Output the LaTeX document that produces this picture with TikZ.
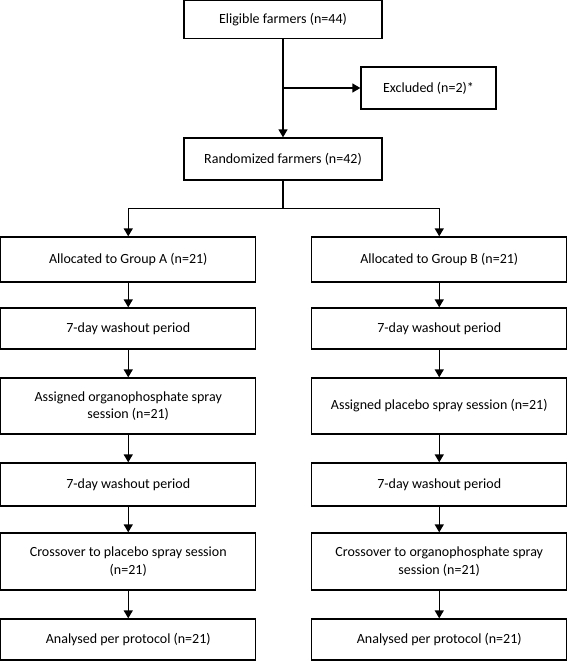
\documentclass[tikz,border=0pt]{standalone}
\usepackage{fontspec}
\setmainfont{Carlito}
\usepackage{tikz}
\usetikzlibrary{arrows.meta}
\usetikzlibrary{positioning}
\tikzset{
  box/.style={draw, rectangle, align=center, inner sep=2pt,
    font=\fontsize{14pt}{17.5pt}\selectfont},
  colbox/.style={box, minimum width=255pt}
}

\begin{document}
\begin{tikzpicture}[->,>={Triangle[length=8pt,width=9pt]},
      node distance=77pt,
      on grid,
      line width=1.3pt]

    \useasboundingbox (0,0) rectangle (567pt,-661pt);

    \node[box, minimum width=198pt, minimum height=38pt]
      (Eligible) at (283pt,-19.5pt) {Eligible farmers (n=44)};
    \node[box, minimum width=135pt, minimum height=42pt]
      (Excluded) [below right=68.5pt and 145.5pt of Eligible] {Excluded (n=2)*};
    \node[box, minimum width=198pt, minimum height=42pt]
      (Randomized) [below=139.5pt of Eligible] {Randomized farmers (n=42)};

    % group A
    \node[colbox, minimum height=45pt]
      (GroupA) [below left=100.5pt and 154.75pt of Randomized] {Allocated to Group A (n=21)};
    \node[colbox, minimum height=41pt]
      (WashA) [below=69pt of GroupA] {7-day washout period};
    \node[colbox, minimum height=56pt]
      (SprayA) [below=77.5pt of WashA] {Assigned organophosphate spray\\session (n=21)};
    \node[colbox, minimum height=43pt]
      (WashAA) [below=78.5pt of SprayA] {7-day washout period};
    \node[colbox, minimum height=57pt]
      (CrossA) [below=77pt of WashAA] {Crossover to placebo spray session\\(n=21)};
    \node[colbox, minimum height=41pt]
      (AnalysedA) [below=78pt of CrossA] {Analysed per protocol (n=21)};

    % group B
    \node[colbox, minimum height=45pt]
      (GroupB) [below right=100.5pt and 156.25pt of Randomized] {Allocated to Group B (n=21)};
    \node[colbox, minimum height=41pt]
      (WashB) [below=69pt of GroupB] {7-day washout period};
    \node[colbox, minimum height=56pt]
      (SprayB) [below=77.5pt of WashB] {Assigned placebo spray session (n=21)};
    \node[colbox, minimum height=43pt]
      (WashBB) [below=78.5pt of SprayB] {7-day washout period};
    \node[colbox, minimum height=57pt]
      (CrossB) [below=77pt of WashBB] {Crossover to organophosphate spray\\session (n=21)};
    \node[colbox, minimum height=41pt]
      (AnalysedB) [below=78pt of CrossB] {Analysed per protocol (n=21)};

    \coordinate (Branch) at (Eligible.south |- Excluded.west);
    \coordinate (Split) at ([yshift=-28pt]Randomized.south);

    \draw (Eligible) -- (Randomized);
    \draw (Branch) -- (Excluded.west);
    \draw[-] (Randomized) -- (Split);
    \draw (Split) -| (GroupA.north);
    \draw (Split) -| (GroupB.north);

    \path[->]
      (GroupA) edge (WashA)
      (WashA) edge (SprayA)
      (SprayA) edge (WashAA)
      (WashAA) edge (CrossA)
      (CrossA) edge (AnalysedA)
      (GroupB) edge (WashB)
      (WashB) edge (SprayB)
      (SprayB) edge (WashBB)
      (WashBB) edge (CrossB)
      (CrossB) edge (AnalysedB);

  \end{tikzpicture}
\end{document}
